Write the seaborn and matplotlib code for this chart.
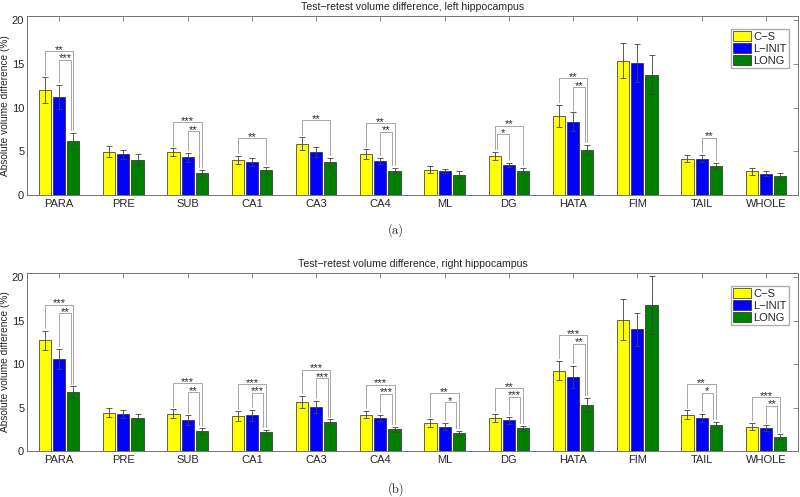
import numpy as np
import pandas as pd
import matplotlib
matplotlib.use('Agg')
import matplotlib.pyplot as plt
import seaborn as sns

regions = ['PARA', 'PRE', 'SUB', 'CA1', 'CA3', 'CA4', 'ML', 'DG', 'HATA', 'FIM', 'TAIL', 'WHOLE']
methods = ['C−S', 'L−INIT', 'LONG']
colors = ['#ffff00', '#0000ff', '#008000']

# left hippocampus: mean and error bar half-length (%)
cs_left = [12.0, 4.95, 4.9, 4.05, 5.9, 4.7, 2.9, 4.5, 9.05, 15.4, 4.15, 2.7]
cs_left_err = [1.5, 0.65, 0.45, 0.45, 0.7, 0.55, 0.4, 0.45, 1.3, 2.0, 0.4, 0.4]
linit_left = [11.2, 4.65, 4.3, 3.75, 4.9, 3.9, 2.75, 3.45, 8.4, 15.15, 4.15, 2.45]
linit_left_err = [1.4, 0.55, 0.5, 0.45, 0.55, 0.35, 0.27, 0.27, 1.05, 2.2, 0.42, 0.27]
long_left = [6.2, 4.05, 2.5, 2.85, 3.75, 2.75, 2.35, 2.75, 5.15, 13.8, 3.35, 2.15]
long_left_err = [0.9, 0.65, 0.42, 0.4, 0.52, 0.35, 0.35, 0.35, 0.6, 2.2, 0.35, 0.33]

# right hippocampus
cs_right = [12.75, 4.4, 4.3, 4.0, 5.65, 4.2, 3.2, 3.8, 9.25, 15.1, 4.2, 2.8]
cs_right_err = [1.1, 0.5, 0.5, 0.58, 0.73, 0.42, 0.43, 0.47, 1.12, 2.35, 0.5, 0.42]
linit_right = [10.6, 4.25, 3.55, 4.1, 5.1, 3.8, 2.8, 3.55, 8.55, 14.0, 3.8, 2.6]
linit_right_err = [1.16, 0.46, 0.58, 0.62, 0.7, 0.39, 0.42, 0.39, 1.28, 1.86, 0.46, 0.35]
long_right = [6.75, 3.85, 2.3, 2.15, 3.35, 2.5, 2.05, 2.6, 5.3, 16.8, 3.0, 1.65]
long_right_err = [0.7, 0.43, 0.35, 0.27, 0.31, 0.28, 0.27, 0.31, 0.8, 3.3, 0.35, 0.27]

# significance: (region, method a, method b, stars), lowest bracket first
sig_left = [('PARA', 1, 2, '***'), ('PARA', 0, 2, '**'),
            ('SUB', 1, 2, '**'), ('SUB', 0, 2, '***'),
            ('CA1', 0, 2, '**'),
            ('CA3', 0, 2, '**'),
            ('CA4', 1, 2, '**'), ('CA4', 0, 2, '**'),
            ('DG', 0, 1, '*'), ('DG', 0, 2, '**'),
            ('HATA', 1, 2, '**'), ('HATA', 0, 2, '**'),
            ('TAIL', 1, 2, '**')]
sig_right = [('PARA', 1, 2, '**'), ('PARA', 0, 2, '***'),
             ('SUB', 1, 2, '**'), ('SUB', 0, 2, '***'),
             ('CA1', 1, 2, '***'), ('CA1', 0, 2, '***'),
             ('CA3', 1, 2, '***'), ('CA3', 0, 2, '***'),
             ('CA4', 1, 2, '***'), ('CA4', 0, 2, '***'),
             ('ML', 1, 2, '*'), ('ML', 0, 2, '**'),
             ('DG', 1, 2, '***'), ('DG', 0, 2, '**'),
             ('HATA', 1, 2, '**'), ('HATA', 0, 2, '***'),
             ('TAIL', 1, 2, '*'), ('TAIL', 0, 2, '**'),
             ('WHOLE', 1, 2, '**'), ('WHOLE', 0, 2, '***')]

sns.set_style('white')
plt.rcParams['font.family'] = ['Liberation Sans', 'DejaVu Sans']

fig = plt.figure(figsize=(8, 4.97), dpi=100)
ax_top = fig.add_axes([0.03375, 0.6076, 0.96375, 0.3602])
ax_bot = fig.add_axes([0.03375, 0.0926, 0.96375, 0.3581])


def draw_panel(ax, means, errs, sigs, title):
    df = pd.DataFrame({
        'region': regions * 3,
        'method': np.repeat(methods, len(regions)),
        'value': np.concatenate(means),
    })
    sns.barplot(data=df, x='region', y='value', hue='method', order=regions,
                hue_order=methods, palette=colors, saturation=1, width=0.66,
                gap=0.14, errorbar=None, edgecolor='0.15', linewidth=0.5, ax=ax)

    bar_conts = list(ax.containers)
    centers = []
    tops = []
    for k, cont in enumerate(bar_conts):
        xs = np.array([p.get_x() + p.get_width() / 2 for p in cont])
        centers.append(xs)
        tops.append(np.array(means[k]) + np.array(errs[k]))
        ax.errorbar(xs, means[k], yerr=errs[k], fmt='none', ecolor='0.25',
                    elinewidth=0.6, capsize=2.5, capthick=0.6)
    centers = np.array(centers)
    tops = np.array(tops)

    # brackets stacked 1 unit apart, 2 units above the tallest error bar
    level = {}
    for n, (reg, a, b, stars) in enumerate(sigs):
        i = regions.index(reg)
        k = level.get(reg, 0)
        level[reg] = k + 1
        h = tops[:, i].max() + 2 + k
        xa, xb = centers[a, i], centers[b, i]
        # lower bracket steps inward where it shares a leg with the upper one
        later = [s for s in sigs[n + 1:] if s[0] == reg]
        if any(a in s[1:3] for s in later):
            xa += 0.04
        if any(b in s[1:3] for s in later):
            xb -= 0.04
        ya = tops[a, i] + 0.3
        yb = tops[b, i] + 0.3
        ax.plot([xa, xa, xb, xb], [ya, h, h, yb], color='0.65', lw=0.7)
        ax.text((xa + xb) / 2, h - 0.2, stars, ha='center', va='baseline',
                fontsize=8)

    ax.set_xlim(-0.5, len(regions) - 0.5)
    ax.set_ylim(0, 20.5)
    ax.set_yticks([0, 5, 10, 15, 20])
    ax.set_xlabel('')
    ax.set_ylabel('Absolute volume difference (%)', fontsize=7.3, labelpad=1)
    ax.set_title(title, fontsize=7.6, pad=4)
    ax.tick_params(direction='in', top=True, right=True, length=3.5,
                   width=0.6, color='0.45', labelsize=8)
    ax.tick_params(axis='y', pad=2)
    ax.tick_params(axis='x', pad=3)
    for s in ax.spines.values():
        s.set_visible(True)
        s.set_color('0.45')
        s.set_linewidth(0.7)

    handles, labels = ax.get_legend_handles_labels()
    ax.legend(handles, labels, loc='upper right',
              bbox_to_anchor=(1 - 9 / 771, 1 - 13 / 179), borderaxespad=0,
              fontsize=8, frameon=True, fancybox=False, edgecolor='0.6',
              handlelength=1.6, handleheight=1.0, handletextpad=0.2,
              labelspacing=0.12, borderpad=0.2)


draw_panel(ax_top, [cs_left, linit_left, long_left],
           [cs_left_err, linit_left_err, long_left_err], sig_left,
           'Test−retest volume difference, left hippocampus')
draw_panel(ax_bot, [cs_right, linit_right, long_right],
           [cs_right_err, linit_right_err, long_right_err], sig_right,
           'Test−retest volume difference, right hippocampus')

fig.text(0.495, 1 - 230 / 497, '(a)', ha='center', va='center',
         fontsize=9, family='cmr10')
fig.text(0.495, 1 - 489 / 497, '(b)', ha='center', va='center',
         fontsize=9, family='cmr10')

fig.savefig('out.png', dpi=100)
